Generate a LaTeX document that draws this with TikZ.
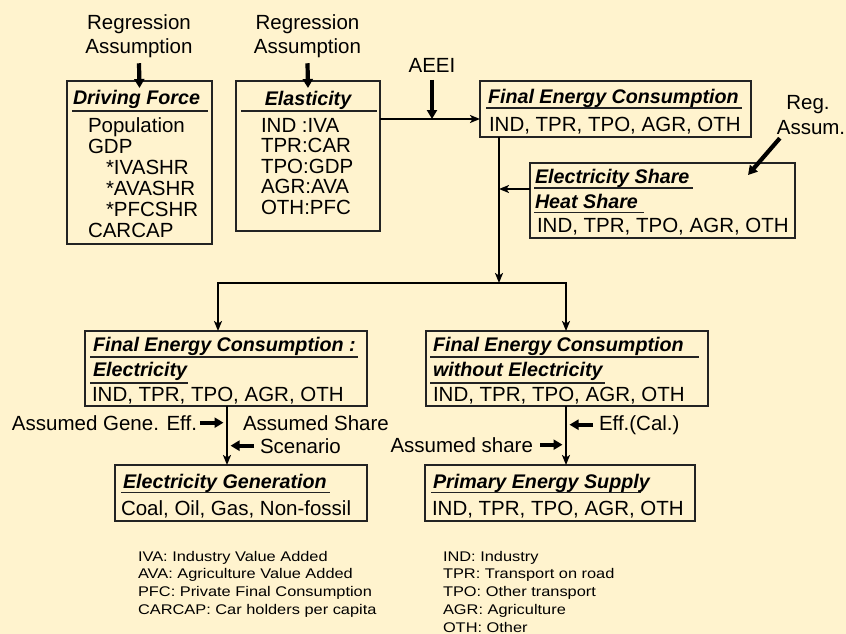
\documentclass[tikz,border=0pt]{standalone}
\usepackage{fontspec}
\setmainfont{Liberation Sans}
\newfontfamily\legendfont[FakeStretch=1.17]{Liberation Sans}
\usetikzlibrary{arrows.meta,calc}
\definecolor{bgc}{RGB}{255,243,206}
\definecolor{edge}{RGB}{35,35,35}
\begin{document}
\begin{tikzpicture}[x=1pt,y=-1pt,
  box/.style={draw=edge, line width=1.6pt, inner sep=0pt, outer sep=0pt, anchor=north west},
  txt/.style={inner sep=0pt, outer sep=0pt, font=\fontsize{20.5}{24}\selectfont, anchor=base west},
  ttl/.style={inner sep=0pt, outer sep=0pt, font=\fontsize{19.7}{24}\selectfont\bfseries\itshape, anchor=base west},
  lgd/.style={inner sep=0pt, outer sep=0pt, font=\legendfont\fontsize{14}{18}\selectfont, anchor=base west},
  uline/.style={draw=edge, line width=1.1pt},
  conn/.style={draw=black, line width=1.8pt, -{Stealth[length=10pt,width=8pt,inset=2.5pt]}},
  fat/.style={draw=black, line width=4.2pt, -{Triangle[length=9pt,width=10pt]}},
]
\fill[bgc] (0,0) rectangle (846,634);
\useasboundingbox (0,0) rectangle (846,634);

% boxes
\node[box, minimum width=145pt, minimum height=163pt] (df) at (67,81) {};
\node[box, minimum width=144pt, minimum height=150pt] (el) at (236,81) {};
\node[box, minimum width=271pt, minimum height=56pt] (fec) at (480,81) {};
\node[box, minimum width=265pt, minimum height=75pt] (es) at (530,163) {};
\node[box, minimum width=282pt, minimum height=75pt] (fece) at (85,331) {};
\node[box, minimum width=282pt, minimum height=75pt] (fecw) at (426,331) {};
\node[box, minimum width=252pt, minimum height=56pt] (eg) at (115,465) {};
\node[box, minimum width=270pt, minimum height=56pt] (pes) at (425,465) {};

% top labels
\node[txt, anchor=base] (ra1a) at (139,30) {Regression};
\node[txt, anchor=base] (ra1b) at (139,54) {Assumption};
\node[txt, anchor=base] (ra2a) at (307.5,30) {Regression};
\node[txt, anchor=base] (ra2b) at (307.5,54) {Assumption};
\node[txt, anchor=base] (aeei) at (432,73) {AEEI};
\node[txt, anchor=base] (ra3a) at (808,110) {Reg.};
\node[txt, anchor=base] (ra3b) at (811,134) {Assum.};

% Driving Force
\node[ttl] (dft) at (73,104) {Driving Force};
\draw[uline] (72,111) -- (208,111);
\node[txt] (df1) at (88,132) {Population};
\node[txt] (df2) at (88,153) {GDP};
\node[txt] (df3) at (106,174) {*IVASHR};
\node[txt] (df4) at (106,195) {*AVASHR};
\node[txt] (df5) at (106,216) {*PFCSHR};
\node[txt] (df6) at (88,237) {CARCAP};

% Elasticity
\node[ttl, anchor=base] (elt) at (308,105) {Elasticity};
\draw[uline] (241,111) -- (377,111);
\node[txt] (el1) at (261,132) {IND :IVA};
\node[txt] (el2) at (261,152.6) {TPR:CAR};
\node[txt] (el3) at (261,173.2) {TPO:GDP};
\node[txt] (el4) at (261,193.8) {AGR:AVA};
\node[txt] (el5) at (261,214.4) {OTH:PFC};

% Final Energy Consumption
\node[ttl] (fect) at (488,103) {Final Energy Consumption};
\draw[uline] (486,108) -- (742,108);
\node[txt] (fec1) at (489,131) {IND, TPR, TPO, AGR, OTH};

% Electricity share
\node[ttl] (est1) at (535,183) {Electricity Share};
\draw[uline] (534,188) -- (693,188);
\node[ttl] (est2) at (535,208) {Heat Share};
\draw[uline] (534,212.5) -- (644,212.5);
\node[txt] (es1) at (537,232) {IND, TPR, TPO, AGR, OTH};

% FEC Electricity
\node[ttl] (fecet1) at (93,351) {Final Energy Consumption :};
\draw[uline] (90,357) -- (358,357);
\node[ttl] (fecet2) at (93,376) {Electricity};
\draw[uline] (90,383) -- (188,383);
\node[txt] (fece1) at (92,401) {IND, TPR, TPO, AGR, OTH};

% FEC without electricity
\node[ttl] (fecwt1) at (433,351) {Final Energy Consumption};
\draw[uline] (430,357) -- (699,357);
\node[ttl] (fecwt2) at (433,376) {without Electricity};
\draw[uline] (430,383) -- (605,383);
\node[txt] (fecw1) at (433,401) {IND, TPR, TPO, AGR, OTH};

% Electricity Generation
\node[ttl] (egt) at (123,488) {Electricity Generation};
\draw[uline] (121,492.5) -- (330,492.5);
\node[txt] (eg1) at (121,515) {Coal, Oil, Gas, Non-fossil};

% Primary Energy Supply
\node[ttl] (pest) at (433,488) {Primary Energy Supply};
\draw[uline] (431,492.5) -- (641,492.5);
\node[txt] (pes1) at (432,515) {IND, TPR, TPO, AGR, OTH};

% side labels
\node[txt] (gen) at (12,430) {Assumed Gene. Eff.};
\node[txt] (ashr) at (243,430) {Assumed Share};
\node[txt] (scen) at (260,453) {Scenario};
\node[txt] (effc) at (599,430) {Eff.(Cal.)};
\node[txt, anchor=base east] (asml) at (533,452) {Assumed share};

% legend
\node[lgd] (lg1) at (138,561) {IVA: Industry Value Added};
\node[lgd] (lg2) at (138,578.8) {AVA: Agriculture Value Added};
\node[lgd] (lg3) at (138,596.6) {PFC: Private Final Consumption};
\node[lgd] (lg4) at (138,614.4) {CARCAP: Car holders per capita};
\node[lgd] (lr1) at (443,561) {IND: Industry};
\node[lgd] (lr2) at (443,578.8) {TPR: Transport on road};
\node[lgd] (lr3) at (443,596.6) {TPO: Other transport};
\node[lgd] (lr4) at (443,614.4) {AGR: Agriculture};
\node[lgd] (lr5) at (443,632.2) {OTH: Other};

% junction coordinates
\coordinate (j1) at (432,119);
\coordinate (j2) at (499,283);
\coordinate (j3) at (218,283);
\coordinate (j4) at (566,283);
\coordinate (j5) at (499,189);
\coordinate (v1) at (227,423);
\coordinate (v3) at (566,423);

% connectors
\draw[fat] ([yshift=-5pt]ra1b.south) -- ([yshift=-7pt]df.north);
\draw[fat] ([yshift=-5pt]ra2b.south) -- ([yshift=-7pt]el.north);
\draw[fat] ([yshift=-7pt]aeei.south) -- (j1);
\draw[fat] ([shift={(3pt,-4pt)}]ra3b.south west) -- ([shift={(-47pt,-12pt)}]es.north east);

\draw[conn] (el.east |- j1) -- (fec.west |- j1);
\draw[conn] (j2 |- fec.south) -- (j2);
\draw[conn] (es.west |- j5) -- (j5);
\draw[conn] (j2) -| (j3 |- fece.north);
\draw[conn] (j2) -| (j4 |- fecw.north);
\draw[conn] (v1 |- fece.south) -- (v1 |- eg.north);
\draw[conn] (v3 |- fecw.south) -- (v3 |- pes.north);

\draw[fat] ([xshift=3pt]gen.east) -- ([xshift=-3.5pt]gen.east -| v1);
\draw[fat] ([xshift=-6pt]scen.west) -- ([xshift=3.5pt]scen.west -| v1);
\draw[fat] ([xshift=-6pt]effc.west) -- ([xshift=3.5pt]effc.west -| v3);
\draw[fat] ([xshift=7pt]asml.east) -- ([xshift=-3.5pt]asml.east -| v3);
\end{tikzpicture}
\end{document}
